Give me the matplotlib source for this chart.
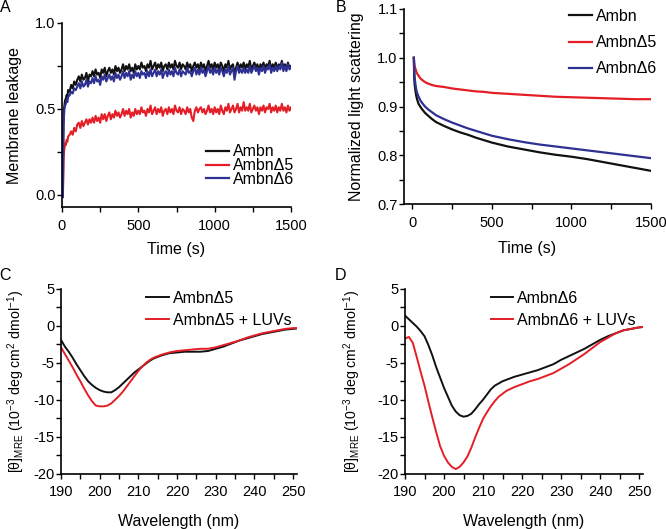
import matplotlib
matplotlib.use("Agg")
import matplotlib.pyplot as plt
from matplotlib.ticker import MultipleLocator

plt.rcParams['font.family'] = ['Liberation Sans', 'DejaVu Sans']
plt.rcParams['axes.unicode_minus'] = False
plt.rcParams['mathtext.fontset'] = 'custom'
plt.rcParams['mathtext.rm'] = 'Liberation Sans'

BLACK = '#111111'
RED = '#e41e26'
BLUE = '#2e3192'

# ---- Panel A : membrane leakage (time in s), noisy traces ----
tA = [0, 6, 8, 10, 13, 16, 20, 25, 30, 35, 40, 50, 60, 70, 80, 90, 100] + list(range(110, 1501, 10))
leak_ambn = [0.0, 0.02, 0.30, 0.44, 0.50, 0.52, 0.55, 0.56, 0.58, 0.57, 0.61, 0.60, 0.64, 0.62, 0.66, 0.64, 0.67,
             0.69, 0.66, 0.70, 0.67, 0.68, 0.71, 0.66, 0.70, 0.69, 0.72,
             0.69, 0.73, 0.70, 0.71, 0.68, 0.73, 0.71, 0.74, 0.69, 0.72,
             0.74, 0.71, 0.73, 0.70, 0.75, 0.72, 0.74, 0.71, 0.73, 0.76,
             0.72, 0.75, 0.73, 0.76, 0.72, 0.74, 0.71, 0.76, 0.73, 0.75,
             0.73, 0.77, 0.74, 0.75, 0.72, 0.76, 0.74, 0.78, 0.73, 0.75,
             0.77, 0.73, 0.76, 0.74, 0.77, 0.72, 0.75, 0.76, 0.73, 0.77,
             0.74, 0.76, 0.73, 0.78, 0.75, 0.74, 0.77, 0.73, 0.76, 0.75,
             0.73, 0.77, 0.74, 0.76, 0.72, 0.75, 0.77, 0.74, 0.76, 0.73,
             0.77, 0.74, 0.76, 0.72, 0.75, 0.78, 0.74, 0.76, 0.73, 0.77,
             0.74, 0.76, 0.73, 0.77, 0.75, 0.72, 0.76, 0.74, 0.78, 0.73,
             0.75, 0.76, 0.70, 0.74, 0.77, 0.73, 0.76, 0.74, 0.77, 0.73,
             0.76, 0.74, 0.78, 0.73, 0.75, 0.77, 0.74, 0.76, 0.72, 0.76,
             0.74, 0.77, 0.73, 0.76, 0.75, 0.78, 0.73, 0.76, 0.74, 0.77,
             0.73, 0.76, 0.74, 0.78, 0.74, 0.76, 0.73, 0.77, 0.74, 0.75]
leak_d5 = [0.0, 0.0, 0.12, 0.20, 0.25, 0.27, 0.30, 0.29, 0.32, 0.31, 0.34, 0.35, 0.37, 0.35, 0.39, 0.37, 0.41,
           0.42, 0.39, 0.43, 0.40, 0.42, 0.44, 0.41, 0.44, 0.42, 0.45,
           0.42, 0.46, 0.43, 0.45, 0.42, 0.47, 0.44, 0.47, 0.43, 0.46,
           0.48, 0.44, 0.47, 0.45, 0.49, 0.46, 0.48, 0.45, 0.47, 0.50,
           0.46, 0.49, 0.47, 0.50, 0.45, 0.48, 0.46, 0.50, 0.47, 0.49,
           0.47, 0.51, 0.48, 0.49, 0.46, 0.50, 0.48, 0.52, 0.47, 0.49,
           0.51, 0.47, 0.50, 0.48, 0.51, 0.46, 0.49, 0.50, 0.47, 0.51,
           0.48, 0.50, 0.47, 0.52, 0.49, 0.48, 0.51, 0.47, 0.50, 0.49,
           0.47, 0.51, 0.48, 0.50, 0.45, 0.43, 0.49, 0.51, 0.48, 0.50,
           0.51, 0.48, 0.50, 0.47, 0.49, 0.52, 0.48, 0.50, 0.47, 0.51,
           0.48, 0.50, 0.47, 0.52, 0.49, 0.47, 0.51, 0.49, 0.53, 0.48,
           0.50, 0.52, 0.48, 0.50, 0.53, 0.48, 0.51, 0.49, 0.54, 0.49,
           0.51, 0.49, 0.53, 0.48, 0.50, 0.52, 0.49, 0.51, 0.47, 0.51,
           0.49, 0.52, 0.48, 0.51, 0.50, 0.53, 0.48, 0.51, 0.49, 0.52,
           0.48, 0.51, 0.49, 0.53, 0.49, 0.51, 0.48, 0.52, 0.49, 0.51]
leak_d6 = [0.0, -0.015, 0.25, 0.40, 0.46, 0.50, 0.52, 0.53, 0.55, 0.54, 0.57, 0.58, 0.60, 0.59, 0.62, 0.61, 0.63,
           0.65, 0.62, 0.66, 0.63, 0.64, 0.67, 0.63, 0.66, 0.65, 0.68,
           0.65, 0.69, 0.66, 0.67, 0.64, 0.69, 0.67, 0.70, 0.66, 0.68,
           0.70, 0.67, 0.69, 0.66, 0.71, 0.68, 0.70, 0.67, 0.69, 0.72,
           0.68, 0.71, 0.69, 0.72, 0.67, 0.70, 0.68, 0.72, 0.69, 0.71,
           0.68, 0.72, 0.70, 0.71, 0.68, 0.72, 0.69, 0.73, 0.69, 0.71,
           0.73, 0.69, 0.72, 0.70, 0.73, 0.68, 0.71, 0.72, 0.69, 0.73,
           0.70, 0.72, 0.69, 0.74, 0.71, 0.70, 0.73, 0.69, 0.72, 0.71,
           0.70, 0.74, 0.71, 0.72, 0.69, 0.72, 0.74, 0.70, 0.73, 0.70,
           0.74, 0.71, 0.73, 0.69, 0.72, 0.75, 0.71, 0.73, 0.70, 0.74,
           0.71, 0.73, 0.70, 0.74, 0.72, 0.69, 0.73, 0.71, 0.75, 0.70,
           0.72, 0.74, 0.67, 0.72, 0.75, 0.71, 0.73, 0.71, 0.74, 0.71,
           0.73, 0.71, 0.75, 0.71, 0.73, 0.75, 0.72, 0.74, 0.70, 0.74,
           0.72, 0.75, 0.71, 0.74, 0.73, 0.76, 0.71, 0.74, 0.72, 0.75,
           0.72, 0.75, 0.73, 0.77, 0.72, 0.75, 0.72, 0.76, 0.73, 0.74]

# ---- Panel B : normalized light scattering ----
tB = [10, 12, 15, 20, 25, 30, 40, 50, 60, 80, 100, 125, 150, 200, 250, 300, 350, 400, 450, 500,
      600, 700, 800, 900, 1000, 1100, 1200, 1300, 1400, 1500]
scat_ambn = [1.0, 0.96, 0.945, 0.932, 0.922, 0.915, 0.905, 0.900, 0.895, 0.887, 0.881, 0.874, 0.868, 0.860,
             0.853, 0.847, 0.842, 0.836, 0.831, 0.826, 0.818, 0.812, 0.806, 0.801, 0.797, 0.792, 0.786,
             0.780, 0.774, 0.768]
scat_d5 = [1.0, 0.99, 0.983, 0.977, 0.972, 0.968, 0.963, 0.958, 0.955, 0.950, 0.947, 0.944, 0.942, 0.940,
           0.937, 0.935, 0.933, 0.931, 0.930, 0.928, 0.926, 0.924, 0.922, 0.920, 0.919, 0.918, 0.917,
           0.916, 0.915, 0.915]
scat_d6 = [1.0, 0.975, 0.96, 0.945, 0.935, 0.928, 0.920, 0.913, 0.908, 0.900, 0.894, 0.888, 0.882, 0.874,
           0.867, 0.861, 0.855, 0.850, 0.845, 0.840, 0.833, 0.827, 0.822, 0.818, 0.814, 0.810, 0.806,
           0.802, 0.798, 0.794]

# ---- Panels C, D : CD spectra ----
wl = [190, 191, 192, 193, 194, 195, 196, 197, 198, 199, 200, 201, 202, 203, 204, 205, 206, 207, 208, 209,
      210, 211, 212, 213, 214, 215, 216, 218, 220, 222, 224, 226, 228, 230, 232, 234, 236, 238, 240, 242,
      244, 246, 248, 250, 251]
cd_d5 = [-1.9, -2.8, -3.5, -4.3, -5.2, -6.0, -6.8, -7.5, -8.0, -8.4, -8.7, -8.9, -9.0, -9.0, -8.7, -8.3,
         -7.8, -7.3, -6.8, -6.3, -5.9, -5.5, -5.1, -4.7, -4.4, -4.2, -4.0, -3.7, -3.6, -3.5, -3.5, -3.5,
         -3.4, -3.1, -2.8, -2.4, -2.0, -1.7, -1.4, -1.1, -0.9, -0.7, -0.5, -0.4, -0.35]
cd_d5_luv = [-2.9, -3.8, -4.7, -5.6, -6.6, -7.5, -8.5, -9.4, -10.2, -10.8, -10.9, -10.9, -10.8, -10.5,
             -10.0, -9.5, -8.9, -8.2, -7.5, -6.8, -6.1, -5.5, -5.0, -4.6, -4.3, -4.1, -3.9, -3.6, -3.4,
             -3.3, -3.2, -3.1, -3.1, -2.9, -2.6, -2.3, -2.0, -1.6, -1.3, -1.0, -0.8, -0.6, -0.4, -0.3, -0.3]
cd_d6 = [1.4, 0.9, 0.4, -0.1, -0.7, -1.4, -2.6, -4.0, -5.6, -7.0, -8.4, -9.6, -10.8, -11.6, -12.1, -12.3,
         -12.2, -11.9, -11.3, -10.6, -10.0, -9.3, -8.6, -8.1, -7.8, -7.5, -7.3, -6.9, -6.6, -6.3, -6.0,
         -5.6, -5.2, -4.6, -4.1, -3.6, -3.1, -2.5, -1.9, -1.4, -1.0, -0.6, -0.4, -0.2, -0.15]
cd_d6_luv = [-1.7, -1.5, -2.3, -4.2, -6.2, -8.1, -10.3, -12.4, -14.4, -16.3, -17.6, -18.5, -19.1, -19.4,
             -19.1, -18.5, -17.7, -16.5, -15.1, -13.8, -12.6, -11.7, -10.9, -10.2, -9.6, -9.2, -8.8, -8.3,
             -7.9, -7.5, -7.2, -6.8, -6.4, -5.8, -5.2, -4.5, -3.8, -3.0, -2.2, -1.6, -1.0, -0.6, -0.4,
             -0.2, -0.15]

FS = 11.5
TFS = 10.5
W, H = 666, 529


def px_axes(fig, left, top, right, bottom):
    return fig.add_axes([left / W, 1 - bottom / H, (right - left) / W, (bottom - top) / H])


def style(ax):
    for s in ['top', 'right']:
        ax.spines[s].set_visible(False)
    for s in ['left', 'bottom']:
        ax.spines[s].set_linewidth(1.2)
    ax.tick_params(which='both', direction='out', length=3.5, width=1.0, labelsize=TFS)
    ax.tick_params(axis='y', which='both', pad=1)
    ax.tick_params(axis='x', which='both', pad=5)


fig = plt.figure(figsize=(W / 100, H / 100), dpi=100)

# A
axA = px_axes(fig, 62, 23, 291, 207)
axA.plot(tA, leak_ambn, color=BLACK, lw=1.5, label='Ambn')
axA.plot(tA, leak_d5, color=RED, lw=1.5, label='AmbnΔ5')
axA.plot(tA, leak_d6, color=BLUE, lw=1.5, label='AmbnΔ6')
axA.set_xlim(0, 1500)
axA.set_ylim(-0.07, 1.0)
axA.set_yticks([0.0, 0.5, 1.0])
axA.set_yticklabels(['0.0', '0.5', '1.0'])
axA.yaxis.set_minor_locator(MultipleLocator(0.25))
axA.set_xticks([0, 500, 1000, 1500])
axA.xaxis.set_minor_locator(MultipleLocator(250))
axA.set_xlabel('Time (s)', fontsize=FS)
axA.set_ylabel('Membrane leakage', fontsize=FS)
axA.xaxis.set_label_coords(0.5, -0.19)
axA.yaxis.set_label_coords(-0.176, 0.5)
style(axA)
leg = axA.legend(loc='upper left', bbox_to_anchor=(0.63, 0.34), frameon=False, fontsize=FS,
                 handlelength=1.4, handletextpad=0.25, labelspacing=-0.08, borderpad=0, borderaxespad=0)
for h in leg.get_lines():
    h.set_linewidth(1.6)

# B
axB = px_axes(fig, 404, 9, 651, 204)
axB.plot(tB, scat_ambn, color=BLACK, lw=1.6, label='Ambn')
axB.plot(tB, scat_d5, color=RED, lw=1.6, label='AmbnΔ5')
axB.plot(tB, scat_d6, color=BLUE, lw=1.6, label='AmbnΔ6')
axB.set_xlim(-52, 1500)
axB.set_ylim(0.7, 1.1)
axB.set_yticks([0.7, 0.8, 0.9, 1.0, 1.1])
axB.yaxis.set_minor_locator(MultipleLocator(0.05))
axB.set_xticks([0, 500, 1000, 1500])
axB.xaxis.set_minor_locator(MultipleLocator(250))
axB.set_xlabel('Time (s)', fontsize=FS)
axB.set_ylabel('Normalized light scattering', fontsize=FS)
axB.xaxis.set_label_coords(0.5, -0.19)
axB.yaxis.set_label_coords(-0.163, 0.5)
style(axB)
axB.legend(loc='upper left', bbox_to_anchor=(0.67, 1.0), frameon=False, fontsize=FS,
           handlelength=1.4, handletextpad=0.25, labelspacing=0.7, borderpad=0, borderaxespad=0)

ylab_cd = r'[θ]$_{\mathregular{MRE}}$ (10$^{\mathregular{-3}}$ deg cm$^{\mathregular{2}}$ dmol$^{\mathregular{-1}}$)'

# C
axC = px_axes(fig, 61, 289, 297, 473.5)
axC.plot(wl, cd_d5, color=BLACK, lw=1.4, label='AmbnΔ5')
axC.plot(wl, cd_d5_luv, color=RED, lw=1.4, label='AmbnΔ5 + LUVs')

# D
axD = px_axes(fig, 405, 289, 643, 473.5)
axD.plot(wl, cd_d6, color=BLACK, lw=1.4, label='AmbnΔ6')
axD.plot(wl, cd_d6_luv, color=RED, lw=1.4, label='AmbnΔ6 + LUVs')

for ax, lx, ly in [(axC, 0.362, -0.145), (axD, 0.36, -0.175)]:
    ax.set_xlim(190, 251)
    ax.set_ylim(-20, 5)
    ax.set_xticks([190, 200, 210, 220, 230, 240, 250])
    ax.xaxis.set_minor_locator(MultipleLocator(5))
    ax.set_yticks([-20, -15, -10, -5, 0, 5])
    ax.yaxis.set_minor_locator(MultipleLocator(2.5))
    ax.set_xlabel('Wavelength (nm)', fontsize=FS)
    ax.set_ylabel(ylab_cd, fontsize=10.2)
    ax.xaxis.set_label_coords(0.5, -0.22)
    ax.yaxis.set_label_coords(ly, 0.5)
    style(ax)
    ax.legend(loc='upper left', bbox_to_anchor=(lx, 0.99), frameon=False, fontsize=FS,
              handlelength=1.4, handletextpad=0.25, labelspacing=0.45, borderpad=0, borderaxespad=0)

for letter, x, y in [('A', 5, 7), ('B', 341, 7), ('C', 5, 275), ('D', 341, 275)]:
    fig.text(x / W, 1 - y / H, letter, fontsize=FS, ha='center', va='center')

fig.savefig('out.png', dpi=100)
